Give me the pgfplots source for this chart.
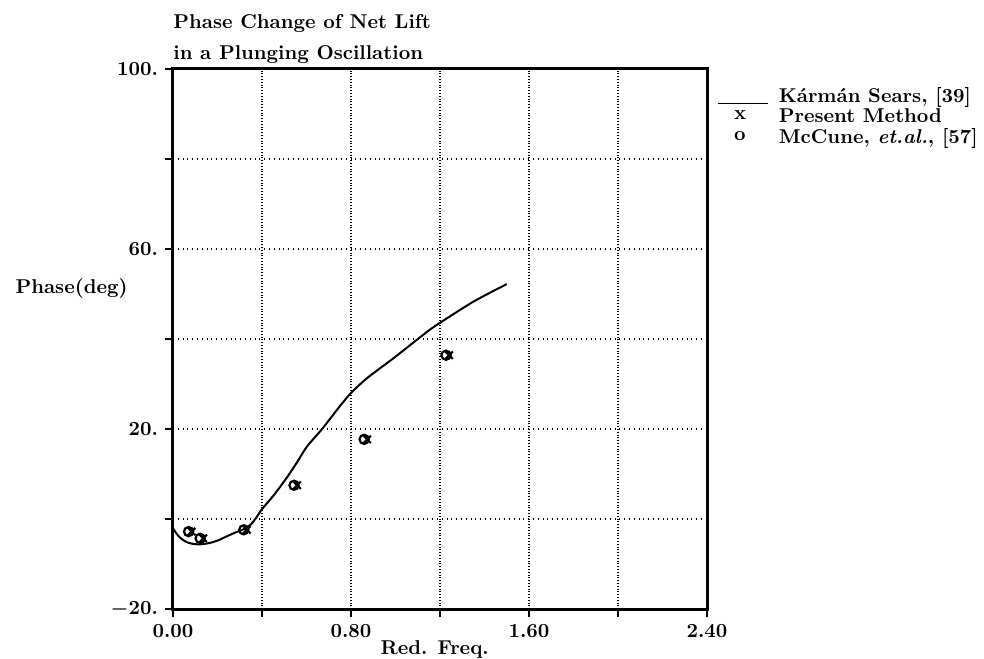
\documentclass[border=0pt]{standalone}
\usepackage{fontspec}
\usepackage{pgfplots}
\pgfplotsset{compat=1.18}
\begin{document}
\begin{tikzpicture}
\path[use as bounding box] (-86.5pt,-24.5pt) rectangle (405.5pt,304.5pt);
\begin{axis}[
  name=ax,
  at={(0pt,0pt)}, anchor=south west,
  width=267pt, height=270pt, scale only axis,
  xmin=0, xmax=2.4, ymin=-20, ymax=100,
  xtick={0,0.4,...,2.41}, ytick={-20,0,...,100},
  xticklabels={0.00,,0.80,,1.60,,2.40},
  yticklabels={{\boldmath$-$}20.,,20.,,60.,,100.},
  xtick pos=bottom, ytick pos=left,
  tick align=outside, major tick length=4pt,
  every tick/.style={black, line width=1.1pt},
  tick label style={font=\bfseries},
  axis line style={line width=1.5pt},
  grid=major,
  x grid style={densely dotted, black, line width=0.8pt},
  y grid style={dotted, black, line width=0.6pt},
  xlabel={Red. Freq.},
  xlabel style={font=\bfseries, at={(rel axis cs:0.49,0)}, anchor=center, yshift=-20pt},
  ylabel={Phase(deg)},
  ylabel style={font=\bfseries, rotate=-90, anchor=center, at={(rel axis cs:-0.19,0.594)}},
  legend style={draw=none, fill=none, at={(rel axis cs:1,1)}, anchor=north west,
    xshift=5pt, yshift=-7pt, font=\bfseries, row sep=-2.5pt, column sep=3pt, inner sep=0pt},
  legend cell align=left,
]
\addplot[black, line width=1pt, smooth, tension=0.4, no marks,
  legend image code/.code={\draw[black, line width=0.7pt] (0pt,-3.5pt) -- (25pt,-3.5pt);}]
  coordinates {
(0,-2.1) (0.023,-3.7) (0.046,-4.7) (0.07,-5.3) (0.10,-5.6) (0.13,-5.6)
(0.167,-5.3) (0.20,-4.8) (0.24,-3.9) (0.28,-3.0) (0.317,-2.3) (0.35,-1.2)
(0.377,0.5) (0.40,2.2) (0.45,5.1) (0.50,8.4) (0.527,10.3) (0.56,12.8) (0.602,16.1) (0.67,20.0)
(0.752,25.2) (0.80,28.0) (0.872,31.3) (0.993,35.8) (1.08,39.2) (1.15,41.9)
(1.20,43.6) (1.35,48.3) (1.50,52.2)
};
\addlegendentry{Kármán Sears, [39]}
\addplot[only marks, mark=x, mark size=2.6pt, black, line width=1.1pt,
  legend image code/.code={\node[font=\bfseries, inner sep=0pt] at (7.5pt,0pt) {x};}]
  coordinates {
(0.084,-2.8) (0.136,-4.3) (0.332,-2.4) (0.558,7.5) (0.873,17.7) (1.241,36.4)
};
\addlegendentry{Present Method}
\addplot[only marks, mark=o, mark size=2.3pt, black, line width=1.1pt,
  legend image code/.code={\node[font=\bfseries, inner sep=0pt] at (7.5pt,0pt) {o};}]
  coordinates {
(0.070,-2.8) (0.122,-4.3) (0.318,-2.4) (0.544,7.5) (0.859,17.7) (1.227,36.4)
};
\addlegendentry{McCune, \textit{et.al.}, [57]}
\end{axis}
\node[anchor=south west, inner sep=0pt, yshift=2.5pt, align=left,
  font=\bfseries\fontsize{10}{15.5}\selectfont] at (ax.north west)
  {Phase Change of Net Lift\\in a Plunging Oscillation};
\end{tikzpicture}
\end{document}
